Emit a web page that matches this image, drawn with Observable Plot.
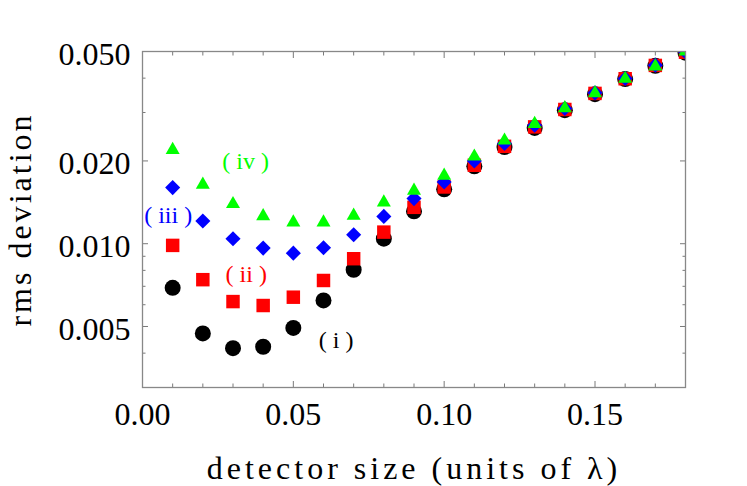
<!DOCTYPE html>
<html><head><meta charset="utf-8">
<script src="https://cdn.jsdelivr.net/npm/d3@7"></script>
<script src="https://cdn.jsdelivr.net/npm/@observablehq/plot@0.6"></script>
<style>body{margin:0;background:#fff}</style>
</head><body><div id="chart"></div>
<script>
// ---- data ----
const detectorSize = [0.01,0.02,0.03,0.04,0.05,0.06,0.07,0.08,0.09,0.10,0.11,0.12,0.13,0.14,0.15,0.16,0.17,0.18];
const rmsI   = [0.00691,0.00472,0.00417,0.00422,0.00494,0.00622,0.00804,0.01043,0.01311,0.01577,0.01912,0.02248,0.02637,0.03059,0.03499,0.03968,0.04436,0.0495];
const rmsII  = [0.00986,0.00740,0.00616,0.00596,0.00639,0.00735,0.00882,0.01102,0.01356,0.01608,0.01929,0.02260,0.02660,0.03077,0.03520,0.03980,0.04450,0.0497];
const rmsIII = [0.01600,0.01209,0.01043,0.00964,0.00924,0.00967,0.01078,0.01257,0.01459,0.01676,0.02000,0.02313,0.02698,0.03103,0.03537,0.03990,0.04460,0.0498];
const rmsIV  = [0.02193,0.01640,0.01394,0.01260,0.01196,0.01196,0.01265,0.01414,0.01560,0.01769,0.02075,0.02373,0.02728,0.03111,0.03528,0.03978,0.04413,0.0500];

const seriesNames  = ["( i )", "( ii )", "( iii )", "( iv )"];
const labelX       = [0.0642, 0.0344, 0.0085, 0.0342];
const labelY       = [0.00447, 0.00773, 0.01268, 0.0200];
const seriesColors = ["#000000", "#ff0000", "#0000ff", "#00ff00"];
const seriesSymbols = ["circle", "square", "diamond2", "triangle"];
const seriesRadii  = [8, 7.6, 6.8, 5.2];

const xMajorTicks = [0, 0.05, 0.10, 0.15];
const xMinorTicks = [0.01,0.02,0.03,0.04,0.06,0.07,0.08,0.09,0.11,0.12,0.13,0.14,0.16,0.17];
const yMajorTicks = [0.005, 0.010, 0.020, 0.050];
const yMinorTicks = [0.004, 0.006, 0.007, 0.008, 0.009, 0.03, 0.04];

const xTitle = "detector size (units of \u03bb)";
const yTitle = "rms deviation";

// ---- build ----
const allSeries = [rmsI, rmsII, rmsIII, rmsIV];
const tables = allSeries.map(vals => detectorSize.map((s, i) => ({size: s, rms: vals[i]})));

const tickColor = "#7a7a7a";
function ticks(axis, anchor, values, len) {
  const opts = {anchor, tickSize: len, fill: "none", stroke: tickColor, strokeWidth: 1, label: null};
  if (anchor === "bottom") opts.dy = -len;
  if (anchor === "top") opts.dy = len;
  if (anchor === "left") opts.dx = len;
  if (anchor === "right") opts.dx = -len;
  return axis === "x" ? Plot.axisX(values, opts) : Plot.axisY(values, opts);
}

const marks = [];
tables.forEach((t, k) => {
  marks.push(Plot.dot(t, {x: "size", y: "rms", r: seriesRadii[k], symbol: seriesSymbols[k], fill: seriesColors[k], stroke: "none", clip: true}));
});
seriesNames.forEach((name, k) => {
  marks.push(Plot.text([name], {x: () => labelX[k], y: () => labelY[k], text: d => d, fill: seriesColors[k], fontSize: 24}));
});
for (const a of ["bottom", "top"]) {
  marks.push(ticks("x", a, xMajorTicks, 6));
  marks.push(ticks("x", a, xMinorTicks, 3.5));
}
for (const a of ["left", "right"]) {
  marks.push(ticks("y", a, yMajorTicks, 6));
  marks.push(ticks("y", a, yMinorTicks, 3.5));
}
marks.push(Plot.axisX(xMajorTicks, {anchor: "bottom", tickSize: 0, tickPadding: 15, tickFormat: d3.format(".2f"), label: null, fill: "black"}));
marks.push(Plot.axisY(yMajorTicks, {anchor: "left", tickSize: 0, tickPadding: 12, tickFormat: d3.format(".3f"), label: null, fill: "black", dy: 3}));
marks.push(Plot.frame({stroke: "#888", strokeWidth: 1.3}));
marks.push(Plot.text([xTitle], {frameAnchor: "bottom", textAnchor: "middle", lineAnchor: "middle", dy: 81, text: d => d, fontSize: 32}));
marks.push(Plot.text([yTitle], {frameAnchor: "left", textAnchor: "middle", lineAnchor: "middle", rotate: -90, dx: -122, dy: 0, text: d => d, fontSize: 32}));

const chart = Plot.plot({
  width: 747,
  height: 486,
  marginLeft: 142,
  marginRight: 62,
  marginTop: 51,
  marginBottom: 99,
  style: {fontFamily: "'Liberation Serif', 'Times New Roman', serif", fontSize: "32px", background: "white"},
  x: {domain: [0, 0.18]},
  y: {type: "log", domain: [0.003, 0.05]},
  marks
});
d3.select(chart).selectAll("text").each(function() {
  const t = this.textContent;
  if (t === xTitle) this.setAttribute("letter-spacing", "4");
  if (t === yTitle) this.setAttribute("letter-spacing", "3");
});
document.getElementById("chart").appendChild(chart);
</script>
</body></html>
